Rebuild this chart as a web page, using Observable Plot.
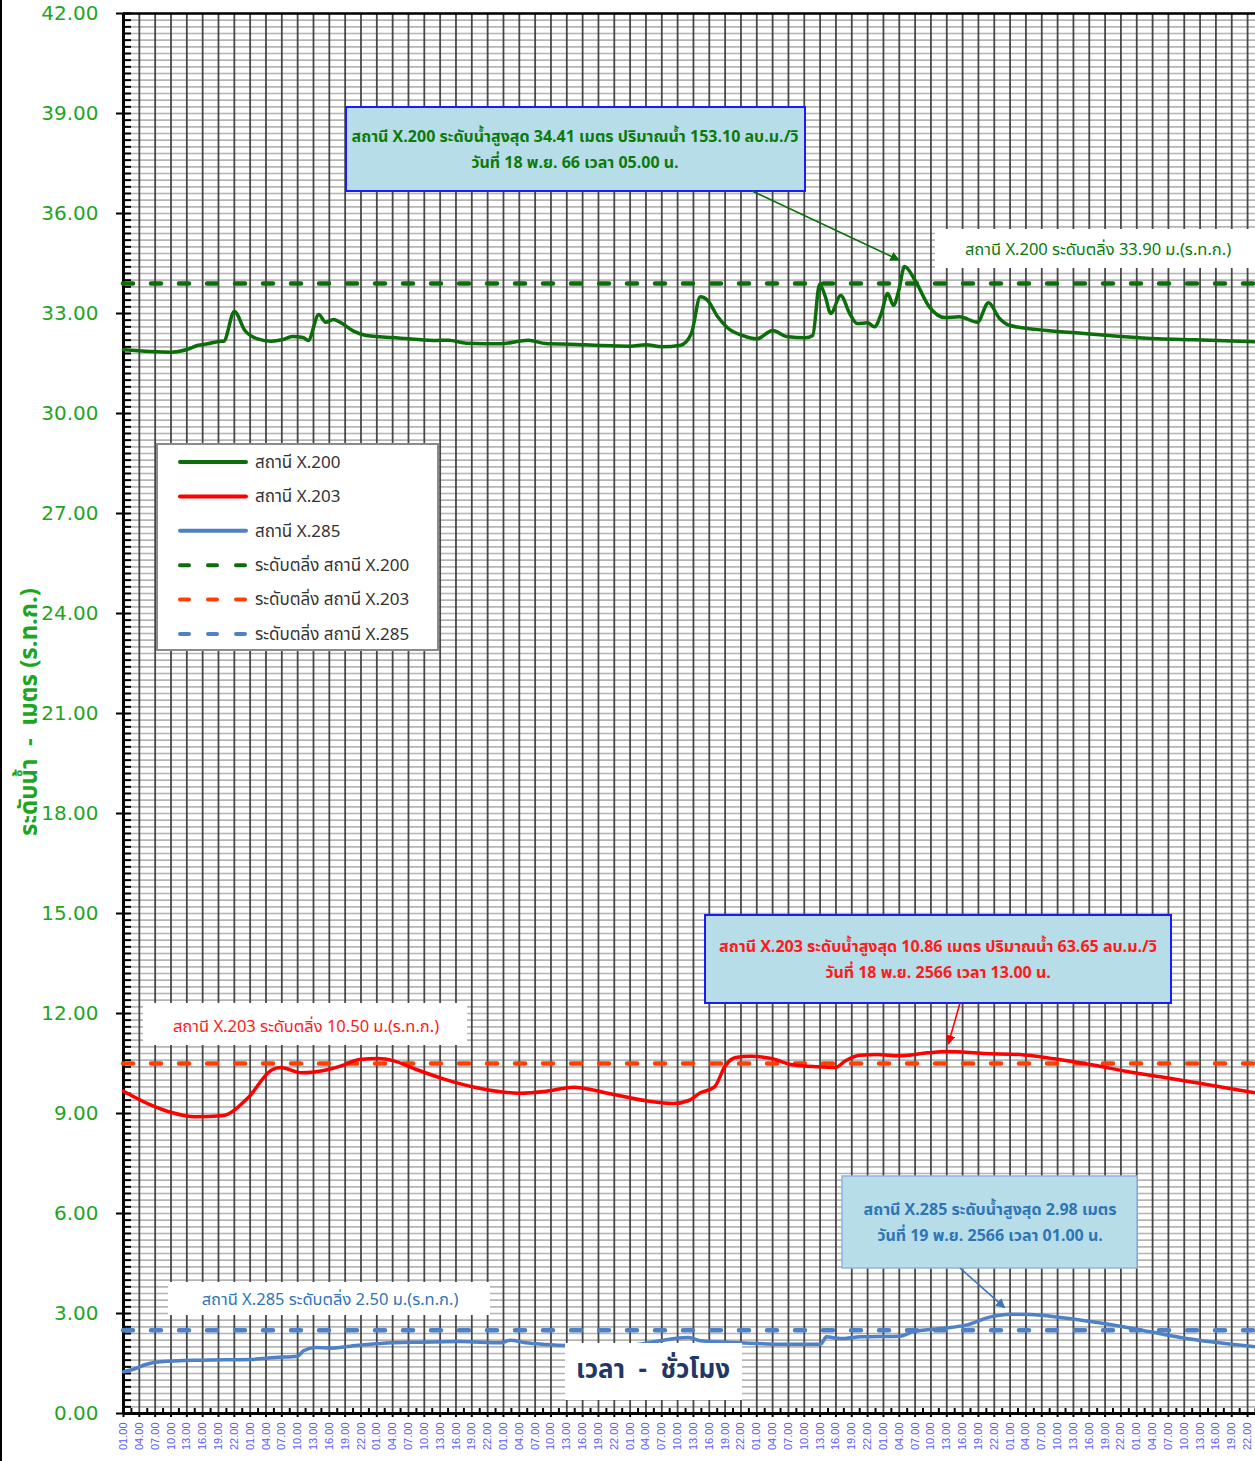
<!DOCTYPE html>
<html><head><meta charset="utf-8">
<script src="https://cdn.jsdelivr.net/npm/d3@7"></script>
<script src="https://cdn.jsdelivr.net/npm/@observablehq/plot@0.6"></script>
<style>
body{margin:0;background:#fff;}
#wrap{position:relative;width:1255px;height:1461px;overflow:hidden;}
#edge{position:absolute;left:0;top:0;width:2px;height:1461px;background:#000;}
</style></head><body>
<div id="wrap"><div id="chart"></div><div id="edge"></div></div>
<script>
// ---------- data ----------
const hourLabels = ["01.00","04.00","07.00","10.00","13.00","16.00","19.00","22.00"];
const dayCount = 9;                       // 12 - 20 Nov 2566, hours counted from 12 Nov 01.00
const yTicks = [0,3,6,9,12,15,18,21,24,27,30,33,36,39,42];
const seriesNames = ["สถานี X.200","สถานี X.203","สถานี X.285"];
const bankNames = ["ระดับตลิ่ง สถานี X.200","ระดับตลิ่ง สถานี X.203","ระดับตลิ่ง สถานี X.285"];
const bankLevels = [33.90, 10.50, 2.50];

const x200Hours  = [0,5,9,12,14,16,18,19,21,23,25.4,28,30,32,34,35,37,38.3,39.8,41,43.6,46,52.5,58.7,61.6,65,71.4,76.7,80,84.7,90.4,96,99,102,105.6,107.6,109.3,110.7,112.6,114.6,117.3,120,123,125.6,129.2,130.6,131.9,133,134,135.9,137.6,139,141,142.3,143.6,144.8,145.9,146.9,148,150,152.7,155.6,158.4,161.8,163.9,166,168,175,182,189,196,203,214.5];
const x200Levels = [31.91,31.86,31.84,31.92,32.04,32.09,32.16,32.17,33.06,32.49,32.24,32.17,32.21,32.31,32.28,32.19,32.97,32.74,32.82,32.74,32.47,32.34,32.26,32.19,32.2,32.11,32.09,32.2,32.1,32.08,32.04,32.02,32.06,32.0,32.05,32.4,33.5,33.39,32.9,32.55,32.34,32.24,32.49,32.31,32.27,32.34,33.88,33.5,33.0,33.54,33.0,32.7,32.72,32.6,33.0,33.6,33.24,33.69,34.41,33.99,33.2,32.88,32.9,32.74,33.32,32.85,32.64,32.49,32.4,32.31,32.24,32.21,32.15];

const x203Hours  = [0,4.7,9.1,13.5,18.6,23.7,28,29.8,33.7,38.8,41.1,44.7,48.3,51.2,55.5,60.6,66.5,75,80.2,85.3,91.7,99.1,104.2,107.1,109.3,112,114.1,116,118.8,122.8,126.8,131.5,134.9,136.8,139.5,142.9,146.9,152.4,156,163,169.8,176.4,183.1,189.9,196.5,203.3,214.5];
const x203Levels = [9.67,9.29,9.03,8.9,8.93,9.49,10.3,10.38,10.22,10.32,10.42,10.62,10.65,10.58,10.32,10.04,9.79,9.61,9.67,9.79,9.61,9.38,9.3,9.39,9.62,9.8,10.45,10.68,10.72,10.65,10.46,10.4,10.38,10.58,10.75,10.77,10.73,10.82,10.86,10.8,10.77,10.64,10.47,10.27,10.1,9.92,9.62];

const x285Hours  = [0,2.3,4.2,7,14.6,24.1,28.8,33,34.1,36.4,39.2,43,48.7,56.3,63.9,71.4,73.3,76.2,80,83.8,94,107.1,109.3,116.9,124.5,132.1,133.2,135.9,139.7,147.2,149.5,154.8,159.6,164.3,168,171.9,177.6,183.2,188.9,194.6,200.3,206,214.5];
const x285Levels = [1.25,1.35,1.47,1.55,1.6,1.62,1.68,1.72,1.88,1.98,1.96,2.02,2.1,2.14,2.16,2.12,2.2,2.12,2.07,2.04,2.02,2.28,2.18,2.12,2.08,2.08,2.3,2.25,2.3,2.32,2.45,2.55,2.65,2.9,2.98,2.97,2.88,2.76,2.62,2.45,2.28,2.15,2.0];

const peakTexts = [
  ["สถานี X.200 ระดับน้ำสูงสุด 34.41 เมตร ปริมาณน้ำ 153.10 ลบ.ม./วิ","วันที่ 18 พ.ย. 66 เวลา 05.00 น."],
  ["สถานี X.203 ระดับน้ำสูงสุด 10.86 เมตร ปริมาณน้ำ 63.65 ลบ.ม./วิ","วันที่ 18 พ.ย. 2566 เวลา 13.00 น."],
  ["สถานี X.285 ระดับน้ำสูงสุด 2.98 เมตร","วันที่ 19 พ.ย. 2566 เวลา 01.00 น."]
];
const peakHours  = [148, 156, 168];
const peakLevels = [34.41, 10.86, 2.98];
const bankTexts = ["สถานี X.200 ระดับตลิ่ง 33.90 ม.(ร.ท.ก.)","สถานี X.203 ระดับตลิ่ง 10.50 ม.(ร.ท.ก.)","สถานี X.285 ระดับตลิ่ง 2.50 ม.(ร.ท.ก.)"];
const yTitle = "ระดับน้ำ  -  เมตร (ร.ท.ก.)";
const xTitle = "เวลา  -  ชั่วโมง";

// ---------- styling ----------
const lineColors = ["#0b6e0b","#ff0000","#4f81c7"];
const bankColors = ["#0b6e0b","#ff4000","#4f81c7"];
const textColors = ["#0b7a0b","#ff1a1a","#2e75b6"];
const FONT_NUM = "'DejaVu Sans', sans-serif";
const FONT_TH = "Tahoma, 'Noto Sans Thai', 'Noto Sans Thai UI', 'Leelawadee UI', 'Loma', 'Garuda', 'DejaVu Sans', 'Noto Sans', sans-serif";

const mk = (hs, vs) => hs.map((h, i) => ({h, v: vs[i]}));
const series = [mk(x200Hours, x200Levels), mk(x203Hours, x203Levels), mk(x285Hours, x285Levels)];
const majorX = d3.range(dayCount * hourLabels.length).map(i => i * 3);
const minorX = majorX.map(h => h + 1.5);
const minorY = d3.range(0, 211).map(i => i / 5);

const chart = Plot.plot({
  width: 1255, height: 1461,
  marginLeft: 123, marginRight: 0, marginTop: 13, marginBottom: 48,
  x: {domain: [0, 214.5], axis: null, label: null},
  y: {domain: [0, 42], axis: null, label: null},
  style: {fontFamily: FONT_NUM, background: "white", overflow: "visible"},
  marks: [
    Plot.ruleY(minorY, {stroke: "#b4b4b4", strokeWidth: 1.6}),
    Plot.ruleX(majorX, {stroke: "#474747", strokeWidth: 1.8}),
    // axes
    Plot.axisY({ticks: yTicks, tickSize: 7, tickPadding: 18, tickFormat: d3.format(".2f"), label: null,
      fontSize: 20, fill: "#1ea51e", stroke: "#000", strokeWidth: 2, fontFamily: FONT_NUM}),
    Plot.axisY({ticks: minorY, tickSize: -8, tickFormat: () => "", label: null, stroke: "#000", strokeWidth: 2}),
    Plot.axisX({ticks: majorX, tickSize: 4, tickPadding: 5, tickRotate: -90, label: null,
      tickFormat: d => hourLabels[Math.round(d / 3) % hourLabels.length],
      fontSize: 11, fill: "#5c5cf5", stroke: "#000", strokeWidth: 2, fontFamily: "'Liberation Sans', sans-serif"}),
    Plot.axisX({ticks: minorX, tickSize: -5, tickFormat: () => "", label: null, stroke: "#000", strokeWidth: 2}),
    Plot.ruleX([0], {stroke: "#000", strokeWidth: 3}),
    Plot.ruleY([0], {stroke: "#000", strokeWidth: 3}),
    Plot.ruleY([42], {stroke: "#000", strokeWidth: 2.5}),
    // bank levels
    ...bankLevels.map((b, i) => Plot.ruleY([b], {stroke: bankColors[i], strokeWidth: 4.5,
      strokeDasharray: "10,18", strokeLinecap: "round"})),
    // series
    ...series.map((s, i) => Plot.line(s, {x: "h", y: "v", stroke: lineColors[i], strokeWidth: 3.5,
      curve: "monotone-x", strokeLinejoin: "round"}))
  ]
});
document.getElementById("chart").appendChild(chart);

// ---------- annotations ----------
const svg = d3.select(chart);
const sx = chart.scale("x"), sy = chart.scale("y");
const defs = svg.append("defs");
lineColors.forEach((c, i) => {
  defs.append("marker").attr("id", "arr" + i).attr("viewBox", "0 0 10 10")
    .attr("refX", 9).attr("refY", 5).attr("markerWidth", 6).attr("markerHeight", 6)
    .attr("markerUnits", "strokeWidth").attr("orient", "auto")
    .append("path").attr("d", "M0,0L10,5L0,10Z").attr("fill", i === 2 ? "#3f76b8" : c);
});
const g = svg.append("g").attr("font-family", FONT_TH).attr("text-anchor", "start");
function rect(x, y, w, h, fill, stroke, sw) {
  g.append("rect").attr("x", x).attr("y", y).attr("width", w).attr("height", h)
    .attr("fill", fill).attr("stroke", stroke || "none").attr("stroke-width", sw || 0);
}
function label(cx, cy, txt, color, size, weight) {
  g.append("text").attr("x", cx).attr("y", cy).attr("text-anchor", "middle")
    .attr("dominant-baseline", "middle").attr("fill", color).attr("font-size", size)
    .attr("font-weight", weight || "normal").text(txt);
}
function arrow(x0, y0, i, dx, dy) {
  const px = sx.apply(peakHours[i]) + dx, py = sy.apply(peakLevels[i]) + dy;
  g.append("line").attr("x1", x0).attr("y1", y0).attr("x2", px).attr("y2", py)
    .attr("stroke", i === 2 ? "#3f76b8" : lineColors[i]).attr("stroke-width", 1.6)
    .attr("marker-end", `url(#arr${i})`);
}
// bank label boxes
rect(935, 229, 320, 39, "#fff");
label(1098, 250, bankTexts[0], textColors[0], 16.5);
rect(143, 1003, 324, 42, "#fff");
label(306, 1027, bankTexts[1], textColors[1], 16.5);
rect(168, 1282, 322, 33, "#fff");
label(330, 1300, bankTexts[2], textColors[2], 16.5);
// peak callouts
rect(346, 107, 459, 84, "#b7dde8", "#1a1aff", 2);
label(575, 138, peakTexts[0][0], textColors[0], 16, "bold");
label(575, 164, peakTexts[0][1], textColors[0], 16, "bold");
arrow(752, 191, 0, -5, -6);
rect(705, 915, 466, 88, "#b7dde8", "#1a1aff", 2);
label(938, 948, peakTexts[1][0], textColors[1], 16, "bold");
label(938, 974, peakTexts[1][1], textColors[1], 16, "bold");
arrow(960, 1003, 1, 2, -7);
rect(842, 1176, 295, 92, "#b7dde8", "#8db4e2", 1.5);
label(990, 1211, peakTexts[2][0], textColors[2], 16, "bold");
label(990, 1237, peakTexts[2][1], textColors[2], 16, "bold");
arrow(960, 1268, 2, -5, -6);
// x title
rect(565, 1343, 177, 57, "#fff");
label(653, 1371, xTitle, "#1f3864", 26, "bold");
// y title
g.append("text").attr("transform", "translate(30,712) rotate(-90)").attr("text-anchor", "middle")
  .attr("dominant-baseline", "middle").attr("fill", "#1ea51e").attr("font-size", 24)
  .attr("font-weight", "bold").text(yTitle);
// legend
rect(157, 444, 281, 206, "#fff", "#8a8a8a", 2);
const legendItems = [
  ...seriesNames.map((n, i) => ({n, c: lineColors[i], dash: null})),
  ...bankNames.map((n, i) => ({n, c: bankColors[i], dash: "9,19"}))
];
legendItems.forEach((it, k) => {
  const yy = 462 + k * 34.4;
  g.append("line").attr("x1", 180).attr("x2", 246).attr("y1", yy).attr("y2", yy)
    .attr("stroke", it.c).attr("stroke-width", 4).attr("stroke-linecap", "round")
    .attr("stroke-dasharray", it.dash);
  g.append("text").attr("x", 255).attr("y", yy + 1).attr("text-anchor", "start")
    .attr("dominant-baseline", "middle").attr("fill", "#333").attr("font-size", 17).text(it.n);
});
</script>
</body></html>
